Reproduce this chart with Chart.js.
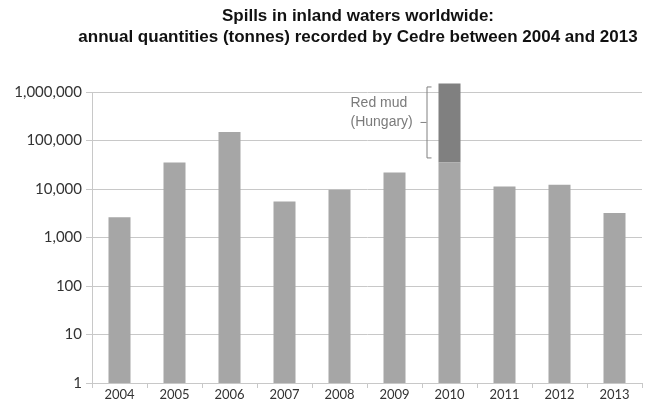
<!DOCTYPE html>
<html>
<head>
<meta charset="utf-8">
<script src="https://cdn.jsdelivr.net/npm/chart.js@4/dist/chart.umd.min.js"></script>
<style>
  html, body { margin: 0; padding: 0; background: #fff; }
  #wrap { width: 649px; height: 407px; }
</style>
</head>
<body>
<div id="wrap"><canvas id="spills"></canvas></div>
<script>
// annual quantities in tonnes
const years = ['2004', '2005', '2006', '2007', '2008', '2009', '2010', '2011', '2012', '2013'];
const spills = [2600, 35300, 149000, 5500, 9700, 22000, 35300, 11300, 12300, 3200];
const redMud = [null, null, null, null, null, null, 1465000, null, null, null];
const yTicks = [1, 10, 100, 1000, 10000, 100000, 1000000];
const titleLines = ['Spills in inland waters worldwide:', 'annual quantities (tonnes) recorded by Cedre between 2004 and 2013'];
const noteLines = ['Red mud', '(Hungary)'];

const gridGray = '#c8c8c8';

// two-line title drawn above the plot
const titlePlugin = {
  id: 'titleLines',
  afterDraw(chart) {
    const ctx = chart.ctx;
    ctx.save();
    ctx.font = 'bold 17px "Liberation Sans", Arial, sans-serif';
    ctx.fillStyle = '#111';
    ctx.textAlign = 'center';
    ctx.textBaseline = 'middle';
    titleLines.forEach((t, i) => ctx.fillText(t, 358, 16 + i * 21));
    ctx.restore();
  }
};

// bracket + label beside the red mud part of the 2010 bar
const notePlugin = {
  id: 'redMudNote',
  afterDatasetsDraw(chart) {
    const bar = chart.getDatasetMeta(1).data[6];
    if (!bar) return;
    const ctx = chart.ctx;
    const left = bar.x - bar.width / 2;
    const bx = left - 12;
    const top = bar.y + 3;
    const bottom = bar.base - 5;
    const mid = (top + bottom) / 2;
    ctx.save();
    ctx.strokeStyle = '#808080';
    ctx.lineWidth = 1;
    ctx.beginPath();
    ctx.moveTo(bx + 5, top + 0.5);
    ctx.lineTo(bx + 0.5, top + 0.5);
    ctx.lineTo(bx + 0.5, bottom + 0.5);
    ctx.lineTo(bx + 5, bottom + 0.5);
    ctx.moveTo(bx - 6, mid + 0.5);
    ctx.lineTo(bx, mid + 0.5);
    ctx.stroke();
    ctx.font = '14px "Liberation Sans", Arial, sans-serif';
    ctx.fillStyle = '#7a7a7a';
    ctx.textAlign = 'left';
    ctx.textBaseline = 'middle';
    ctx.fillText(noteLines[0], bx - 76, mid - 19);
    ctx.fillText(noteLines[1], bx - 76, mid);
    ctx.restore();
  }
};

new Chart(document.getElementById('spills'), {
  type: 'bar',
  data: {
    labels: years,
    datasets: [
      {
        label: 'Spills',
        data: spills,
        backgroundColor: '#a6a6a6',
        barPercentage: 0.4,
        categoryPercentage: 1,
        clip: false
      },
      {
        label: 'Red mud (Hungary)',
        data: redMud,
        backgroundColor: '#808080',
        barPercentage: 0.4,
        categoryPercentage: 1,
        clip: false
      }
    ]
  },
  options: {
    responsive: true,
    maintainAspectRatio: false,
    animation: false,
    layout: { padding: { top: 92, left: 0, right: 7, bottom: 0 } },
    plugins: {
      legend: { display: false },
      title: { display: false },
      tooltip: { enabled: false }
    },
    scales: {
      x: {
        stacked: true,
        grid: {
          offset: true,
          drawOnChartArea: false,
          color: gridGray,
          tickLength: 5
        },
        border: { color: gridGray },
        ticks: {
          color: '#333',
          padding: -1,
          font: { family: 'Lato, "Open Sans", sans-serif', size: 13 }
        },
        afterFit(s) { s.height = 24; }
      },
      y: {
        type: 'logarithmic',
        stacked: true,
        min: 1,
        max: 1000000,
        grid: { color: gridGray, tickLength: 6 },
        border: { color: gridGray },
        ticks: {
          color: '#333',
          padding: 4,
          font: { family: 'Lato, "Open Sans", sans-serif', size: 15 },
          callback: v => Number(v).toLocaleString('en-US')
        },
        afterBuildTicks(s) { s.ticks = yTicks.map(v => ({ value: v })); },
        afterFit(s) { s.width = 92; }
      }
    }
  },
  plugins: [titlePlugin, notePlugin]
});
</script>
</body>
</html>
